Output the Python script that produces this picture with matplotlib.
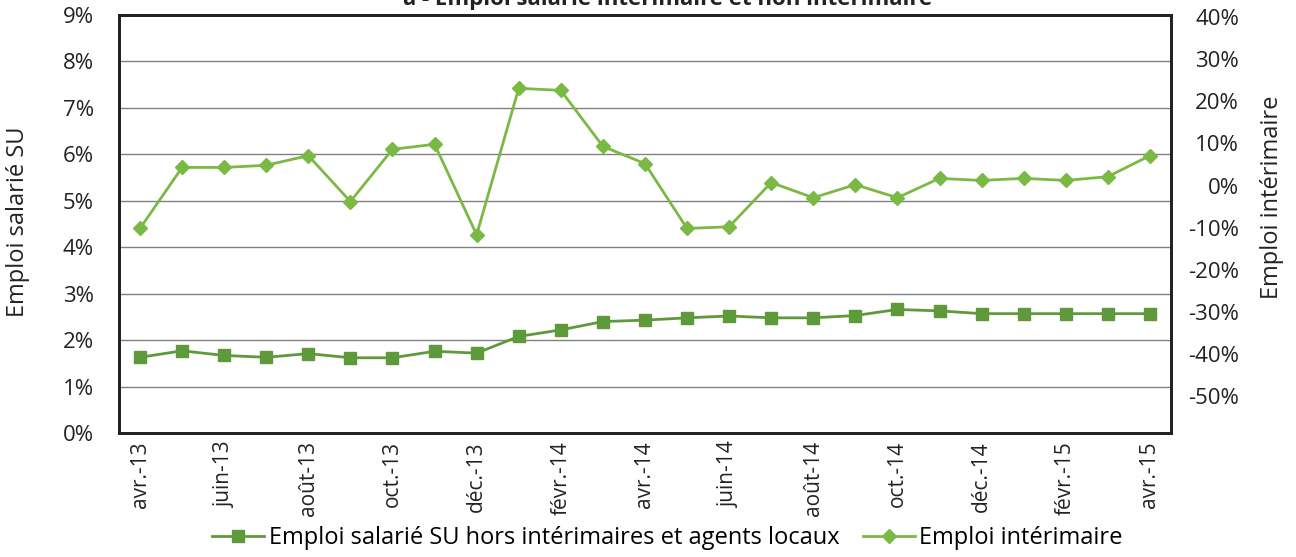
import matplotlib.pyplot as plt
from matplotlib.ticker import PercentFormatter

plt.rcParams['font.family'] = ['Open Sans', 'DejaVu Sans']
plt.rcParams['axes.unicode_minus'] = False

months = ['avr.-13', 'mai-13', 'juin-13', 'juil.-13', 'août-13', 'sept.-13', 'oct.-13',
          'nov.-13', 'déc.-13', 'janv.-14', 'févr.-14', 'mars-14', 'avr.-14', 'mai-14',
          'juin-14', 'juil.-14', 'août-14', 'sept.-14', 'oct.-14', 'nov.-14', 'déc.-14',
          'janv.-15', 'févr.-15', 'mars-15', 'avr.-15']

# left axis, %
emploi_su = [1.63, 1.77, 1.67, 1.63, 1.71, 1.62, 1.62, 1.76, 1.72, 2.08, 2.22, 2.40, 2.43,
             2.48, 2.52, 2.48, 2.48, 2.53, 2.66, 2.63, 2.57, 2.57, 2.57, 2.57, 2.57]
# right axis, %
emploi_interim = [-10.2, 4.3, 4.3, 4.8, 7.1, -3.8, 8.6, 9.8, -11.7, 23.1, 22.6, 9.3, 5.2,
                  -10.2, -9.8, 0.7, -2.9, 0.2, -2.9, 1.7, 1.2, 1.7, 1.2, 2.1, 7.1]

dark_green = '#5e9a3c'
light_green = '#7ab943'
txt = '#222222'

fig = plt.figure(figsize=(12.96, 5.57), dpi=100)
ax = fig.add_axes([0.0918, 0.2226, 0.8117, 0.7504])
ax2 = ax.twinx()

x = list(range(len(months)))
l1, = ax.plot(x, emploi_su, color=dark_green, lw=2, marker='s', ms=8.5,
              label='Emploi salarié SU hors intérimaires et agents locaux')
l2, = ax2.plot(x, emploi_interim, color=light_green, lw=2, marker='D', ms=7,
               label='Emploi intérimaire')

ax.set_xlim(-0.5, len(months) - 0.5)
ax.set_ylim(0, 9)
ax.set_yticks(range(0, 10))
ax.yaxis.set_major_formatter(PercentFormatter(decimals=0))
ax2.set_ylim(-58.8, 40.5)
ax2.set_yticks(range(-50, 41, 10))
ax2.yaxis.set_major_formatter(PercentFormatter(decimals=0))

ax.set_xticks(x[::2])
ax.set_xticklabels(months[::2], rotation=90, fontsize=15)
ax.grid(axis='y', color='#808080', lw=1)
ax.set_axisbelow(True)

ax.tick_params(axis='y', length=0, labelsize=16, colors=txt, pad=18)
ax.tick_params(axis='x', length=0, colors=txt, pad=6)
ax2.tick_params(axis='y', length=0, labelsize=16, colors=txt, pad=49)
for lab in ax2.get_yticklabels():
    lab.set_horizontalalignment('right')

for a in (ax, ax2):
    for s in a.spines.values():
        s.set_color(txt)
        s.set_linewidth(2)

fig.text(0.0139, 0.601, 'Emploi salarié SU', rotation=90, ha='center', va='center',
         fontsize=17, color=txt)
fig.text(0.9815, 0.646, 'Emploi intérimaire', rotation=90, ha='center', va='center',
         fontsize=17, color=txt)

fig.text(0.515, 0.991, 'a - Emploi salarié intérimaire et non intérimaire',
         ha='center', va='baseline', fontsize=16, fontweight='bold', color=txt)

fig.legend(handles=[l1, l2], loc='center', bbox_to_anchor=(0.515, 0.034),
           ncol=2, frameon=False, fontsize=17, handlelength=2.2, handletextpad=0.2,
           columnspacing=1.0, borderpad=0)

fig.savefig('out.png', dpi=100)
